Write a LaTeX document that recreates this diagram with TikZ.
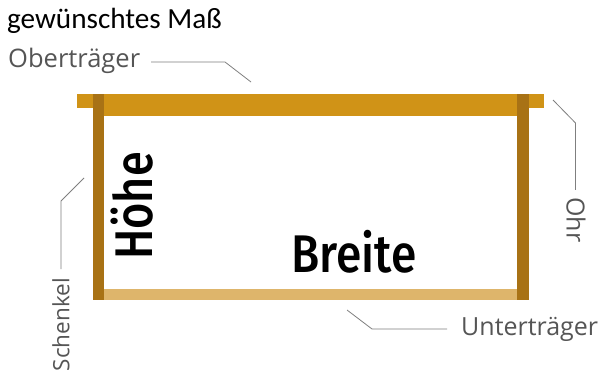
\documentclass[tikz,border=0pt]{standalone}
\usepackage{fontspec}
\setmainfont{Carlito}
\newfontfamily\titlefont{Carlito}
\newfontfamily\labelfont{Open Sans}
\newfontfamily\bigfont{Fira Sans Medium}
\definecolor{top}{HTML}{D09317}
\definecolor{stile}{HTML}{A87215}
\definecolor{bottom}{HTML}{DEB56B}
\definecolor{leader}{HTML}{7F7F7F}
\definecolor{labelgrey}{HTML}{555555}
\tikzset{
  x=1pt,y=-1pt,
  leaderline/.style={draw=leader,line width=0.8pt},
  partlabel/.style={inner sep=0,text=labelgrey,font=\labelfont\fontsize{25.5}{27}\selectfont},
  bigtext/.style={inner sep=0,text=black,font=\bigfont\fontsize{53}{58}\selectfont},
  titletext/.style={inner sep=0,text=black,font=\titlefont\fontsize{29.2}{32}\selectfont},
}
\begin{document}
\begin{tikzpicture}
\useasboundingbox (0,0) rectangle (601,371);
\fill[white] (0,0) rectangle (601,371);
% frame
\fill[bottom] (104,289) rectangle (517,299.5);
\fill[top] (77,94) rectangle (544,108);
\fill[top] (93,94) rectangle (529,116.5);
\fill[stile] (93,94) rectangle (104,299.5);
\fill[stile] (517,94) rectangle (529,299.5);
% texts
\node[titletext,anchor=west] (title) at (7,21) {gewünschtes Maß};
\node[partlabel,anchor=west] (ober) at (8,61) {Oberträger};
\node[partlabel,anchor=west,font=\labelfont\fontsize{25}{27}\selectfont] (unter) at (461,329) {Unterträger};
\node[partlabel,rotate=-90,anchor=west,font=\labelfont\fontsize{25}{27}\selectfont] (ohr) at (576,197) {Ohr};
\node[partlabel,rotate=90,anchor=east,font=\labelfont\fontsize{22.5}{25}\selectfont] (schenkel) at (61,278) {Schenkel};
\node[bigtext,anchor=center,xscale=0.87] (breite) at (354,252) {Breite};
\node[bigtext,anchor=center,rotate=90,xscale=0.85] (hoehe) at (132,206) {Höhe};
% leaders
\coordinate (a1) at (251,82);
\coordinate (a2) at (553,100);
\coordinate (a3) at (84,178);
\coordinate (a4) at (347,310);
\draw[leaderline] (151,62) -- (225,62) -- (a1);
\draw[leaderline] (a2) -- (575.5,123) -- (575.5,190);
\draw[leaderline] (a3) -- (61,201) -- (61,269);
\draw[leaderline] (a4) -- (372,329) -- (447,329);
\end{tikzpicture}
\end{document}
